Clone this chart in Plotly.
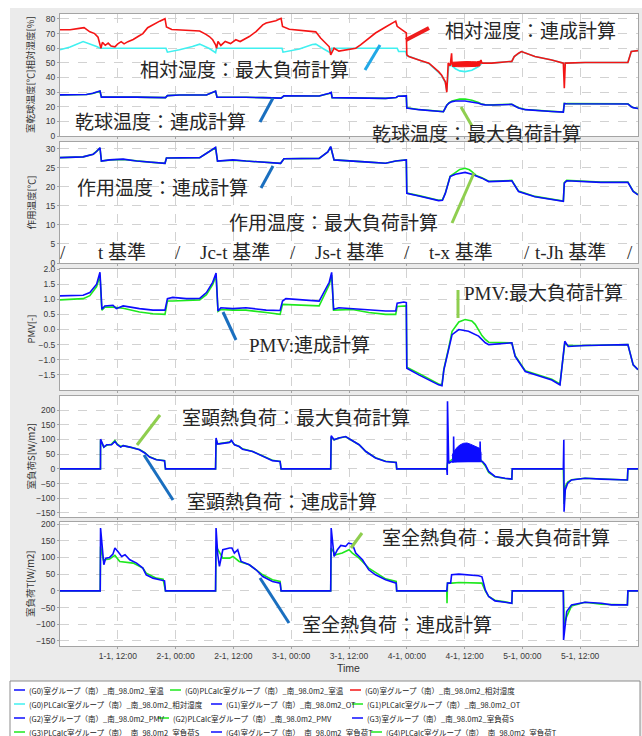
import plotly.graph_objects as go
from plotly.subplots import make_subplots

# ---------------- time axis (hours from 1-1 00:00) ----------------
x_tick_hours = [12, 24, 36, 48, 60, 72, 84, 96, 108]
x_tick_text = ["1-1, 12:00", "2-1, 00:00", "2-1, 12:00", "3-1, 00:00", "3-1, 12:00",
               "4-1, 00:00", "4-1, 12:00", "5-1, 00:00", "5-1, 12:00"]

# ---------------- G0 : room dry-bulb temperature [degC] ----------------
temp_coupled = [
    (0, 28.1), (5.5, 28.4), (6.8, 29.2), (7.6, 30.0), (8.3, 30.8), (8.6, 26.6), (10.3, 26.7),
    (13.1, 26.8), (15.9, 26.6), (18.6, 26.4), (21.9, 26.2), (22.3, 27.6), (24.8, 28.0),
    (30.4, 28.0), (31.7, 29.8), (32.3, 30.7), (32.6, 26.6), (35.2, 26.7), (38.6, 26.5),
    (42.1, 26.2), (45.9, 25.9), (46.5, 27.5), (49.7, 27.4), (53.8, 27.3), (55.9, 29.2),
    (56.3, 29.8), (56.5, 26.2), (60.7, 25.9), (64.1, 25.5), (67.6, 25.7), (69.8, 26.3),
    (70.2, 27.2), (71.9, 27.4), (72.0, 19.1), (74.5, 18.0), (76.6, 17.3), (78.6, 16.8),
    (79.6, 16.6), (80.3, 21.0), (80.8, 22.6), (81.4, 23.5), (82.1, 23.9), (84.1, 23.9),
    (85.5, 23.3), (86.9, 22.4), (87.6, 21.6), (88.3, 21.3), (90.0, 21.2), (93.8, 21.6),
    (94.5, 20.3), (95.2, 19.2), (96.6, 18.0), (99.3, 17.2), (102.1, 16.7), (104.5, 16.3),
    (104.7, 22.2), (105.2, 22.0), (108.0, 22.0), (112.4, 21.8), (117.9, 21.9), (118.6, 20.0),
    (119.0, 19.4), (120.0, 18.8),
]
temp_maxload = [
    (0, 28.1), (5.5, 28.4), (6.8, 29.1), (7.6, 29.9), (8.3, 30.6), (8.6, 26.6), (10.3, 26.7),
    (13.1, 26.8), (15.9, 26.6), (18.6, 26.4), (21.9, 26.2), (22.3, 27.6), (24.8, 28.0),
    (30.4, 28.0), (31.7, 29.7), (32.3, 30.6), (32.6, 26.6), (35.2, 26.7), (38.6, 26.5),
    (42.1, 26.2), (45.9, 25.9), (46.5, 27.5), (49.7, 27.4), (53.8, 27.3), (55.9, 29.1),
    (56.3, 29.7), (56.5, 26.2), (60.7, 25.9), (64.1, 25.5), (67.6, 25.7), (69.8, 26.3),
    (70.2, 27.2), (71.9, 27.4), (72.0, 19.2), (74.5, 18.1), (76.6, 17.4), (78.6, 16.9),
    (79.6, 16.7), (80.3, 21.0), (80.8, 22.8), (81.4, 23.9), (82.1, 24.7), (83.0, 25.2),
    (84.1, 25.3), (85.5, 24.5), (86.9, 22.9), (87.6, 21.8), (88.3, 21.4), (90.0, 21.3),
    (93.8, 21.7), (94.5, 20.4), (95.2, 19.3), (96.6, 18.1), (99.3, 17.3), (102.1, 16.8),
    (104.5, 16.4), (104.7, 22.3), (105.2, 22.1), (108.0, 22.1), (112.4, 21.9), (117.9, 22.0),
    (118.6, 20.1), (119.0, 19.5), (120.0, 18.9),
]

# ---------------- G0 : relative humidity [%] ----------------
rh_coupled = [
    (0, 72.6), (2.1, 72.6), (4.0, 73.6), (5.0, 74.1), (6.2, 71.2), (7.2, 70.0), (7.9, 67.5),
    (8.3, 63.5), (8.5, 60.0), (8.8, 64.0), (9.4, 62.0), (10.0, 63.5), (10.6, 61.5), (11.4, 61.0),
    (12.0, 63.0), (12.7, 64.5), (13.3, 63.0), (14.1, 64.5), (15.2, 66.0), (16.2, 68.0),
    (17.2, 70.0), (18.2, 74.0), (19.7, 77.0), (20.7, 78.5), (21.8, 80.2), (22.1, 74.5),
    (23.2, 72.8), (24.8, 72.4), (29.0, 71.8), (30.3, 69.5), (31.0, 68.0), (31.7, 65.8),
    (32.3, 62.3), (32.5, 60.0), (32.8, 64.6), (33.4, 61.9), (34.3, 64.6), (35.4, 63.2),
    (36.5, 65.8), (37.4, 64.6), (39.3, 68.0), (40.7, 71.4), (42.1, 76.0), (42.8, 77.2),
    (44.8, 78.8), (45.9, 80.4), (46.2, 74.9), (47.6, 73.0), (49.7, 72.2), (53.1, 71.2),
    (54.1, 67.0), (55.9, 61.0), (56.2, 55.5), (56.9, 60.0), (57.9, 58.0), (59.3, 59.0),
    (61.4, 60.0), (62.4, 62.3), (64.1, 67.0), (65.5, 70.4), (67.6, 74.5), (69.7, 78.5),
    (70.0, 75.0), (71.4, 72.0), (71.9, 70.5), (72.0, 55.5), (72.4, 54.3), (74.5, 52.0),
    (76.6, 49.8), (78.6, 44.0), (79.2, 41.8), (80.0, 37.0), (80.3, 30.0), (80.6, 50.0),
    (81.0, 48.0), (81.3, 56.5), (81.4, 49.0), (87.2, 49.5), (87.4, 52.0), (87.6, 49.8),
    (89.6, 49.8), (93.8, 51.0), (94.3, 54.3), (95.2, 56.6), (95.8, 57.7), (98.6, 54.3),
    (102.1, 52.0), (104.5, 49.8), (104.7, 32.7), (104.9, 49.8), (109.0, 50.2), (117.9, 50.2),
    (118.6, 57.8), (120.0, 58.4),
]
# fast control oscillation of the coupled humidity: envelope (hour, low, high)
rh_coupled_band_h = [81.4, 82.5, 83.5, 84.5, 85.5, 86.5, 87.2]
rh_coupled_band_lo = [47.6, 47.4, 47.3, 47.3, 47.4, 47.6, 48.0]
rh_coupled_band_hi = [50.4, 50.7, 50.9, 50.9, 50.8, 50.7, 51.2]

rh_maxload = [
    (0, 58.9), (2.1, 60.8), (4.8, 64.6), (6.8, 62.3), (7.6, 61.2), (8.3, 60.0), (22.0, 60.0),
    (22.3, 57.3), (24.8, 58.9), (27.5, 61.2), (29.0, 62.8), (31.0, 59.8), (32.3, 57.0),
    (32.5, 60.0), (46.1, 60.0), (46.3, 57.3), (49.7, 59.5), (52.4, 62.5), (53.1, 62.8),
    (54.5, 60.0), (56.2, 56.7), (56.4, 60.0), (70.0, 60.0), (70.3, 57.8), (71.8, 57.8),
    (72.0, 55.0), (74.5, 52.0), (76.6, 49.5), (78.6, 43.5), (79.2, 41.5), (80.0, 36.5),
    (80.3, 31.0), (80.7, 48.0), (81.4, 48.0), (82.1, 46.0), (83.0, 44.5), (84.1, 44.0),
    (85.5, 45.0), (86.9, 47.5), (87.6, 49.8), (89.6, 49.8), (93.8, 51.0), (94.3, 54.3),
    (95.2, 56.6), (95.8, 57.7), (98.6, 54.3), (102.1, 52.0), (104.5, 49.8), (104.7, 48.5),
    (105.0, 49.8), (109.0, 50.2), (117.9, 50.2), (118.6, 57.8), (120.0, 58.4),
]

# ---------------- G1 : operative temperature [degC] ----------------
ot_coupled = [
    (0, 27.7), (4.8, 27.9), (6.9, 28.6), (7.6, 29.3), (8.3, 30.3), (8.6, 26.8), (10.3, 27.1),
    (13.1, 27.3), (15.9, 26.8), (18.6, 26.5), (21.8, 26.2), (22.1, 27.6), (24.8, 27.6),
    (29.0, 27.7), (31.0, 29.3), (32.3, 30.4), (32.7, 26.8), (35.9, 27.1), (38.6, 26.8),
    (42.8, 26.5), (45.8, 26.2), (46.5, 27.4), (49.7, 27.4), (53.8, 27.5), (55.6, 29.2),
    (56.2, 30.6), (56.9, 27.1), (60.7, 26.7), (64.1, 26.5), (67.6, 26.2), (69.7, 26.8),
    (71.9, 27.1), (72.0, 18.3), (74.5, 17.6), (78.6, 16.4), (79.4, 16.5), (80.0, 18.3),
    (81.0, 22.7), (82.1, 23.3), (84.1, 23.8), (85.5, 23.3), (87.6, 22.3), (89.0, 21.4),
    (93.8, 21.6), (95.2, 18.8), (98.6, 17.4), (103.4, 16.3), (104.5, 16.2), (104.7, 21.0),
    (105.2, 21.6), (112.3, 21.2), (117.9, 21.2), (119.0, 18.8), (120.0, 17.9),
]
ot_maxload = [
    (0, 27.7), (4.8, 27.9), (6.9, 28.6), (7.6, 29.3), (8.3, 30.2), (8.6, 26.8), (10.3, 27.1),
    (13.1, 27.2), (15.9, 26.8), (18.6, 26.5), (21.8, 26.2), (22.1, 27.6), (24.8, 27.6),
    (29.0, 27.7), (31.0, 29.3), (32.3, 30.3), (32.7, 26.8), (35.9, 27.0), (38.6, 26.8),
    (42.8, 26.5), (45.8, 26.2), (46.5, 27.4), (49.7, 27.4), (53.8, 27.5), (55.6, 29.2),
    (56.2, 30.5), (56.9, 27.1), (60.7, 26.7), (64.1, 26.5), (67.6, 26.2), (69.7, 26.8),
    (71.9, 27.1), (72.0, 18.4), (74.5, 17.7), (78.6, 16.5), (79.4, 16.6), (80.0, 18.4),
    (81.0, 22.8), (82.1, 23.9), (83.0, 24.6), (84.1, 24.9), (85.0, 24.5), (85.5, 24.0),
    (86.5, 22.9), (87.6, 22.4), (89.0, 21.5), (93.8, 21.7), (95.2, 18.9), (98.6, 17.5),
    (103.4, 16.4), (104.5, 16.3), (104.7, 21.1), (105.2, 21.7), (112.3, 21.3), (117.9, 21.3),
    (119.0, 18.9), (120.0, 18.0),
]

# ---------------- G2 : PMV [-] ----------------
pmv_coupled = [
    (0, 1.11), (4.8, 1.13), (6.2, 1.22), (7.6, 1.50), (8.3, 1.89), (8.7, 0.67), (9.3, 0.78),
    (11.0, 0.80), (11.7, 0.69), (13.1, 0.78), (16.5, 0.69), (19.3, 0.64), (21.8, 0.64),
    (22.3, 1.02), (23.4, 1.06), (26.2, 1.02), (29.0, 1.03), (30.4, 1.22), (31.7, 1.56),
    (32.4, 1.87), (32.8, 0.61), (33.4, 0.72), (35.9, 0.69), (38.6, 0.72), (42.8, 0.64),
    (45.7, 0.63), (46.2, 0.94), (46.9, 1.02), (53.8, 0.94), (55.9, 1.56), (56.4, 1.89),
    (56.8, 0.67), (57.9, 0.72), (60.7, 0.69), (64.1, 0.64), (67.6, 0.61), (69.7, 0.61),
    (70.0, 0.87), (71.4, 0.91), (71.9, 0.89), (72.0, -1.28), (74.5, -1.50), (78.6, -1.83),
    (79.3, -1.86), (79.7, -1.33), (80.7, -0.67), (81.4, -0.17), (82.8, 0.00), (84.8, -0.06),
    (86.9, -0.22), (88.3, -0.44), (89.0, -0.50), (93.8, -0.44), (94.5, -0.89), (96.6, -1.39),
    (102.1, -1.67), (103.8, -1.83), (104.8, -0.39), (105.5, -0.56), (109.0, -0.53),
    (117.9, -0.50), (119.0, -1.17), (120.0, -1.33),
]
pmv_maxload = [
    (0, 0.98), (4.8, 1.02), (6.2, 1.12), (7.6, 1.42), (8.3, 1.78), (8.7, 0.64), (9.3, 0.74),
    (11.0, 0.74), (13.1, 0.70), (16.5, 0.58), (19.3, 0.52), (21.8, 0.50), (22.3, 0.94),
    (23.4, 0.94), (29.0, 0.98), (30.4, 1.15), (31.7, 1.48), (32.4, 1.78), (32.8, 0.60),
    (33.4, 0.66), (35.9, 0.64), (38.6, 0.64), (42.8, 0.56), (45.7, 0.50), (46.2, 0.83),
    (53.8, 0.78), (55.9, 1.48), (56.4, 1.80), (56.8, 0.64), (60.7, 0.66), (64.1, 0.56),
    (67.6, 0.50), (69.7, 0.50), (70.0, 0.76), (71.9, 0.78), (72.0, -1.25), (74.5, -1.45),
    (78.6, -1.80), (79.3, -1.83), (79.7, -1.30), (80.7, -0.60), (81.4, -0.06), (82.8, 0.25),
    (84.1, 0.33), (85.5, 0.28), (86.2, 0.17), (87.6, -0.20), (88.3, -0.33), (89.0, -0.42),
    (93.8, -0.44), (94.5, -0.87), (96.6, -1.36), (102.1, -1.64), (103.8, -1.80),
    (104.8, -0.45), (105.5, -0.53), (109.0, -0.53), (117.9, -0.50), (119.0, -1.17),
    (120.0, -1.33),
]

# ---------------- G3 : sensible room load [W/m2] ----------------
sload_coupled = [
    (0, 0), (8.4, 0), (8.42, 101), (8.8, 82), (9.1, 74), (9.7, 82), (10.7, 82), (11.4, 93),
    (11.9, 82), (12.6, 74), (13.1, 79), (14.5, 74), (16.5, 65), (17.6, 54), (18.6, 40),
    (20.0, 31), (21.7, 28), (21.9, 0), (32.3, 0), (32.4, 105), (32.7, 85), (33.1, 85),
    (34.1, 88), (35.2, 90), (35.6, 97), (36.2, 82), (37.2, 76), (37.9, 67), (40.0, 59),
    (42.1, 42), (44.1, 28), (45.7, 25), (45.9, 0), (56.2, 0), (56.3, 113), (56.9, 99),
    (57.9, 105), (59.3, 110), (60.4, 99), (62.1, 82), (63.5, 59), (65.5, 37), (67.6, 25),
    (69.8, 22), (69.9, 0), (80.3, 0), (80.4, -21), (80.45, 230), (80.7, 19), (81.3, 25),
    (81.7, 25), (81.72, 110), (81.8, 25), (87.2, 25), (87.22, 93), (87.3, 25), (87.7, 25),
    (88.3, 14), (89.0, -9), (90.3, -26), (92.4, -32), (93.8, -35), (93.9, 0), (104.5, 0),
    (104.6, 99), (104.65, -146), (104.9, -72), (105.4, -49), (106.2, -38), (109.0, -32),
    (112.4, -35), (115.9, -38), (117.8, -38), (117.9, 0), (120.0, 0),
]
# on/off cycling of the coupled sensible load: envelope (hour, low, high)
sload_band_h = [81.4, 81.9, 82.5, 83.1, 83.8, 84.5, 85.2, 85.9, 86.6, 87.1, 87.4]
sload_band_lo = [22, 23, 24, 25, 25, 25, 25, 25, 26, 26, 26]
sload_band_hi = [45, 62, 74, 82, 87, 88, 84, 78, 72, 70, 55]

sload_maxload = [
    (0, 0), (8.4, 0), (8.42, 97), (8.8, 80), (9.1, 74), (9.7, 80), (10.7, 84), (11.4, 96),
    (11.9, 84), (12.6, 76), (13.1, 79), (14.5, 74), (16.5, 66), (17.6, 55), (18.6, 41),
    (20.0, 32), (21.7, 28), (21.9, 0), (32.3, 0), (32.4, 100), (32.7, 85), (33.1, 86),
    (34.1, 88), (35.2, 91), (35.6, 95), (36.2, 83), (37.2, 76), (37.9, 68), (40.0, 59),
    (42.1, 43), (44.1, 29), (45.7, 25), (45.9, 0), (56.2, 0), (56.3, 108), (56.9, 99),
    (57.9, 105), (59.3, 109), (60.4, 99), (62.1, 82), (63.5, 59), (65.5, 38), (67.6, 26),
    (69.8, 22), (69.9, 0), (80.3, 0), (80.45, 20), (81.3, 30), (82.5, 45), (84.1, 55),
    (85.5, 50), (86.9, 40), (87.7, 22), (88.3, 10), (89.0, -12), (90.3, -27), (92.4, -33),
    (93.8, -35), (93.9, 0), (104.5, 0), (104.65, -120), (104.9, -60), (105.4, -45),
    (106.2, -37), (109.0, -32), (112.4, -35), (115.9, -38), (117.8, -38), (117.9, 0),
    (120.0, 0),
]

# ---------------- G4 : total room load [W/m2] ----------------
tload_coupled = [
    (0, 0), (8.35, 0), (8.42, 188), (8.8, 118), (9.1, 78), (9.5, 98), (10.3, 100), (11.0, 110),
    (11.4, 128), (12.1, 116), (12.8, 103), (13.5, 108), (14.5, 93), (15.9, 83), (17.2, 68),
    (17.9, 48), (19.3, 38), (20.7, 33), (21.7, 30), (21.9, 0), (32.3, 0), (32.4, 188),
    (32.75, 108), (33.1, 73), (33.8, 123), (35.2, 128), (35.7, 128), (36.2, 113), (36.9, 123),
    (37.6, 88), (39.3, 78), (40.7, 63), (42.1, 43), (44.1, 28), (45.7, 23), (45.9, 0),
    (56.2, 0), (56.3, 188), (56.9, 103), (57.6, 123), (58.3, 136), (59.3, 133), (59.9, 143),
    (60.7, 140), (61.4, 113), (62.8, 93), (64.1, 63), (65.5, 48), (67.6, 33), (69.8, 23),
    (69.9, 0), (80.3, 0), (80.45, 23), (81.1, 23), (81.3, 48), (82.8, 50), (85.5, 48),
    (86.9, 45), (87.6, 42), (88.3, 3), (89.0, -17), (90.3, -30), (92.4, -34), (93.8, -37),
    (93.9, 0), (104.5, 0), (104.55, -147), (105.2, -62), (106.2, -42), (109.0, -34),
    (112.4, -37), (114.5, -42), (117.8, -42), (117.9, 0), (120.0, 0),
]
tload_maxload = [
    (0, 0), (8.35, 0), (8.42, 133), (9.0, 93), (10.3, 95), (11.4, 106), (12.4, 88), (13.8, 86),
    (15.2, 83), (17.2, 68), (17.9, 53), (20.0, 38), (21.4, 35), (21.9, 0), (32.3, 0),
    (32.4, 133), (33.8, 98), (35.2, 98), (35.9, 103), (37.2, 88), (39.3, 78), (42.1, 48),
    (44.1, 33), (45.7, 28), (45.9, 0), (56.2, 0), (56.3, 128), (57.2, 108), (58.6, 113),
    (60.0, 123), (60.7, 113), (62.1, 98), (64.1, 68), (67.6, 36), (69.8, 28), (69.9, 0),
    (80.3, 0), (80.35, -37), (80.45, 23), (81.4, 23), (82.8, 25), (87.6, 23), (88.3, 0),
    (89.0, -17), (90.3, -28), (92.4, -33), (93.8, -37), (93.9, 0), (104.5, 0), (104.7, -100),
    (105.2, -77), (106.2, -45), (109.0, -34), (112.4, -40), (117.8, -42), (117.9, 0),
    (120.0, 0),
]

# ---------------- labels ----------------
y_titles = ["室乾球温度[℃]相対湿度[%]", "作用温度[℃]", "PMV[-]", "室負荷S[W/m2]", "室負荷T[W/m2]"]
basis_labels = ["/", "t 基準", "/", "Jc-t 基準", "/", "Js-t 基準", "/", "t-x 基準", "/",
                "t-Jh 基準", "/"]
series_names = {
    "temp_c": "(G0)室グループ（南）_南_98.0m2_室温",
    "temp_m": "(G0)PLCalc室グループ（南）_南_98.0m2_室温",
    "rh_c": "(G0)室グループ（南）_南_98.0m2_相対湿度",
    "rh_m": "(G0)PLCalc室グループ（南）_南_98.0m2_相対湿度",
    "ot_c": "(G1)室グループ（南）_南_98.0m2_OT",
    "ot_m": "(G1)PLCalc室グループ（南）_南_98.0m2_OT",
    "pmv_c": "(G2)室グループ（南）_南_98.0m2_PMV",
    "pmv_m": "(G2)PLCalc室グループ（南）_南_98.0m2_PMV",
    "s_c": "(G3)室グループ（南）_南_98.0m2_室負荷S",
    "s_m": "(G3)PLCalc室グループ（南）_南_98.0m2_室負荷S",
    "t_c": "(G4)室グループ（南）_南_98.0m2_室負荷T",
    "t_m": "(G4)PLCalc室グループ（南）_南_98.0m2_室負荷T",
}
legend_rows = [["temp_c", "temp_m", "rh_c"], ["rh_m", "ot_c", "ot_m"],
               ["pmv_c", "pmv_m", "s_c"], ["s_m", "t_c", "t_m"]]

# ---------------- styling ----------------
BLUE, GREEN, RED, CYAN = "#0c0cff", "#1ee81e", "#f41414", "#40f0f0"
PTR_BLUE, PTR_GREEN, PTR_RED, PTR_SKY = "#1a6fbf", "#8fce4f", "#ee1c1c", "#22a8e6"
BG_GRAY = "#ebebeb"
GRID = "#d2d2d2"
FRAME = "#a4a4a4"
TXT = "#262626"
JP_SERIF = "Liberation Serif, 'Noto Sans CJK JP', serif"
JP_SANS = "'Noto Sans CJK JP', sans-serif"
TICK_FONT = dict(family="Liberation Sans, Arial, sans-serif", size=8.5, color="#3a3a3a")

W, H = 642, 736
PL, PR, PT, PB = 60, 638, 14, 646
PANEL_PX = [(14, 136), (142, 263), (269, 390), (396, 517), (522, 646)]
series_color = {"temp_c": BLUE, "temp_m": GREEN, "rh_c": RED, "rh_m": CYAN, "ot_c": BLUE,
                "ot_m": GREEN, "pmv_c": BLUE, "pmv_m": GREEN, "s_c": BLUE, "s_m": GREEN,
                "t_c": BLUE, "t_m": GREEN}


def fx(px):
    return (px - PL) / (PR - PL)


def fy(py):
    return (PB - py) / (PB - PT)


fig = make_subplots(rows=5, cols=1, shared_xaxes=True)


def add_line(pairs, key, row, width=1.6):
    fig.add_trace(go.Scatter(
        x=[p[0] for p in pairs], y=[p[1] for p in pairs], mode="lines",
        line=dict(color=series_color[key], width=width), name=series_names[key],
        showlegend=False, hoverinfo="skip"), row=row, col=1)


def add_band(hours, lo, hi, key, row):
    fig.add_trace(go.Scatter(
        x=list(hours) + list(hours)[::-1], y=list(hi) + list(lo)[::-1], mode="lines",
        fill="toself", fillcolor=series_color[key], line=dict(color=series_color[key], width=1),
        showlegend=False, hoverinfo="skip"), row=row, col=1)


add_line(temp_maxload, "temp_m", 1)
add_line(temp_coupled, "temp_c", 1)
add_line(rh_maxload, "rh_m", 1)
add_line(rh_coupled, "rh_c", 1)
add_band(rh_coupled_band_h, rh_coupled_band_lo, rh_coupled_band_hi, "rh_c", 1)
add_line(ot_maxload, "ot_m", 2)
add_line(ot_coupled, "ot_c", 2)
add_line(pmv_maxload, "pmv_m", 3)
add_line(pmv_coupled, "pmv_c", 3)
add_line(sload_maxload, "s_m", 4)
add_line(sload_coupled, "s_c", 4)
add_band(sload_band_h, sload_band_lo, sload_band_hi, "s_c", 4)
add_line(tload_maxload, "t_m", 5)
add_line(tload_coupled, "t_c", 5)

y_setup = [
    dict(range=[0, 83.4], tickvals=list(range(0, 81, 10))),
    dict(range=[0, 31.8], tickvals=list(range(0, 31, 5))),
    dict(range=[-2, 2], tickvals=[-1.5, -1.0, -0.5, 0.0, 0.5, 1.0, 1.5, 2.0], tickformat=".1f"),
    dict(range=[-164, 248], tickvals=list(range(-150, 201, 50))),
    dict(range=[-165, 206], tickvals=list(range(-150, 201, 50))),
]
for i, (top, bot) in enumerate(PANEL_PX):
    r = i + 1
    fig.update_yaxes(domain=[fy(bot), fy(top)], tickfont=TICK_FONT, showgrid=True,
                     gridcolor=GRID, griddash="dash", gridwidth=1, zeroline=False,
                     showline=True, mirror=True, linecolor=FRAME, linewidth=1,
                     ticks="outside", ticklen=2, tickcolor=FRAME, fixedrange=True,
                     row=r, col=1, **y_setup[i])
    fig.update_xaxes(range=[0, 120], tickvals=x_tick_hours, ticktext=x_tick_text,
                     showticklabels=(r == 5), tickfont=TICK_FONT, showgrid=True,
                     gridcolor=GRID, griddash="dash", gridwidth=1, zeroline=False,
                     showline=True, mirror=True, linecolor=FRAME, linewidth=1,
                     ticks="outside", ticklen=2, tickcolor=FRAME, row=r, col=1)

shapes = [
    # white strips around the grey chart backdrop
    dict(type="rect", xref="paper", yref="paper", x0=fx(0), x1=fx(10), y0=fy(H), y1=fy(0),
         fillcolor="white", line=dict(width=0), layer="below"),
    dict(type="rect", xref="paper", yref="paper", x0=fx(0), x1=fx(W), y0=fy(8), y1=fy(0),
         fillcolor="white", line=dict(width=0), layer="below"),
    # legend box
    dict(type="rect", xref="paper", yref="paper", x0=fx(10), x1=fx(640), y0=fy(745),
         y1=fy(681), fillcolor="white", line=dict(color="#8c8c8c", width=1), layer="below"),
]

# leader lines from the callouts to the curves
pointers = [
    ((406, 40), (429, 28), PTR_RED, 4),
    ((365, 70), (380, 45), PTR_SKY, 3),
    ((260, 122), (273, 98), PTR_BLUE, 3),
    ((461, 107), (472, 126), PTR_GREEN, 3),
    ((452, 223), (474, 173), PTR_GREEN, 3),
    ((261, 188), (273, 166), PTR_BLUE, 3),
    ((458, 290), (458, 318), PTR_GREEN, 3),
    ((223, 312), (236, 340), PTR_BLUE, 3),
    ((137, 445), (160, 415), PTR_GREEN, 3),
    ((144, 455), (173, 500), PTR_BLUE, 3),
    ((351, 548), (362, 533), PTR_GREEN, 3),
    ((260, 578), (289, 623), PTR_BLUE, 3),
]
for (x0, y0), (x1, y1), col, w in pointers:
    shapes.append(dict(type="line", xref="paper", yref="paper", x0=fx(x0), y0=fy(y0),
                       x1=fx(x1), y1=fy(y1), line=dict(color=col, width=w)))

annotations = []
callouts = [
    ("相対湿度：連成計算", 443, 31),
    ("相対湿度：最大負荷計算", 138, 70),
    ("乾球温度：連成計算", 73, 122),
    ("乾球温度：最大負荷計算", 370, 134),
    ("作用温度：連成計算", 75, 188),
    ("作用温度：最大負荷計算", 227, 223),
    ("PMV:最大負荷計算", 462, 293),
    ("PMV:連成計算", 247, 345),
    ("室顕熱負荷：最大負荷計算", 180, 418),
    ("室顕熱負荷：連成計算", 185, 502),
    ("室全熱負荷：最大負荷計算", 380, 538),
    ("室全熱負荷：連成計算", 300, 625),
]
for text, x, y in callouts:
    annotations.append(dict(text=text, xref="paper", yref="paper", x=fx(x), y=fy(y),
                            xanchor="left", yanchor="middle", showarrow=False,
                            font=dict(family=JP_SERIF, size=19, color=TXT)))

basis_x = [63, 122, 178, 235, 293, 349, 407, 461, 527, 570, 630]
for text, x in zip(basis_labels, basis_x):
    annotations.append(dict(text=text, xref="paper", yref="paper", x=fx(x), y=fy(252),
                            xanchor="center", yanchor="middle", showarrow=False,
                            font=dict(family=JP_SERIF, size=19, color=TXT)))

for title, (top, bot) in zip(y_titles, PANEL_PX):
    annotations.append(dict(text=title, xref="paper", yref="paper", x=fx(30),
                            y=fy((top + bot) / 2), xanchor="center", yanchor="middle",
                            textangle=-90, showarrow=False,
                            font=dict(family=JP_SANS, size=9.5, color="#333333")))

annotations.append(dict(text="Time", xref="paper", yref="paper", x=fx(348), y=fy(668),
                        xanchor="center", yanchor="middle", showarrow=False,
                        font=dict(family="Liberation Sans, Arial, sans-serif", size=10.5,
                                  color="#333333")))

# legend, laid out in flowing rows
legend_line_x = [[14, 170, 350], [14, 211, 352], [14, 158, 352], [14, 211, 371]]
legend_row_y = [690, 704, 718, 732]
for keys, xs, y in zip(legend_rows, legend_line_x, legend_row_y):
    for key, x in zip(keys, xs):
        shapes.append(dict(type="line", xref="paper", yref="paper", x0=fx(x), x1=fx(x + 11),
                           y0=fy(y), y1=fy(y), line=dict(color=series_color[key], width=1.5)))
        annotations.append(dict(text=series_names[key], xref="paper", yref="paper",
                                x=fx(x + 13), y=fy(y), xanchor="left", yanchor="middle",
                                showarrow=False,
                                font=dict(family=JP_SANS, size=7.5, color="#222222")))

fig.update_layout(
    width=W, height=H, autosize=False,
    margin=dict(l=PL, r=W - PR, t=PT, b=H - PB, pad=0),
    paper_bgcolor=BG_GRAY, plot_bgcolor="white",
    showlegend=False, shapes=shapes, annotations=annotations,
    hovermode=False,
)

fig.write_html("out.html")
